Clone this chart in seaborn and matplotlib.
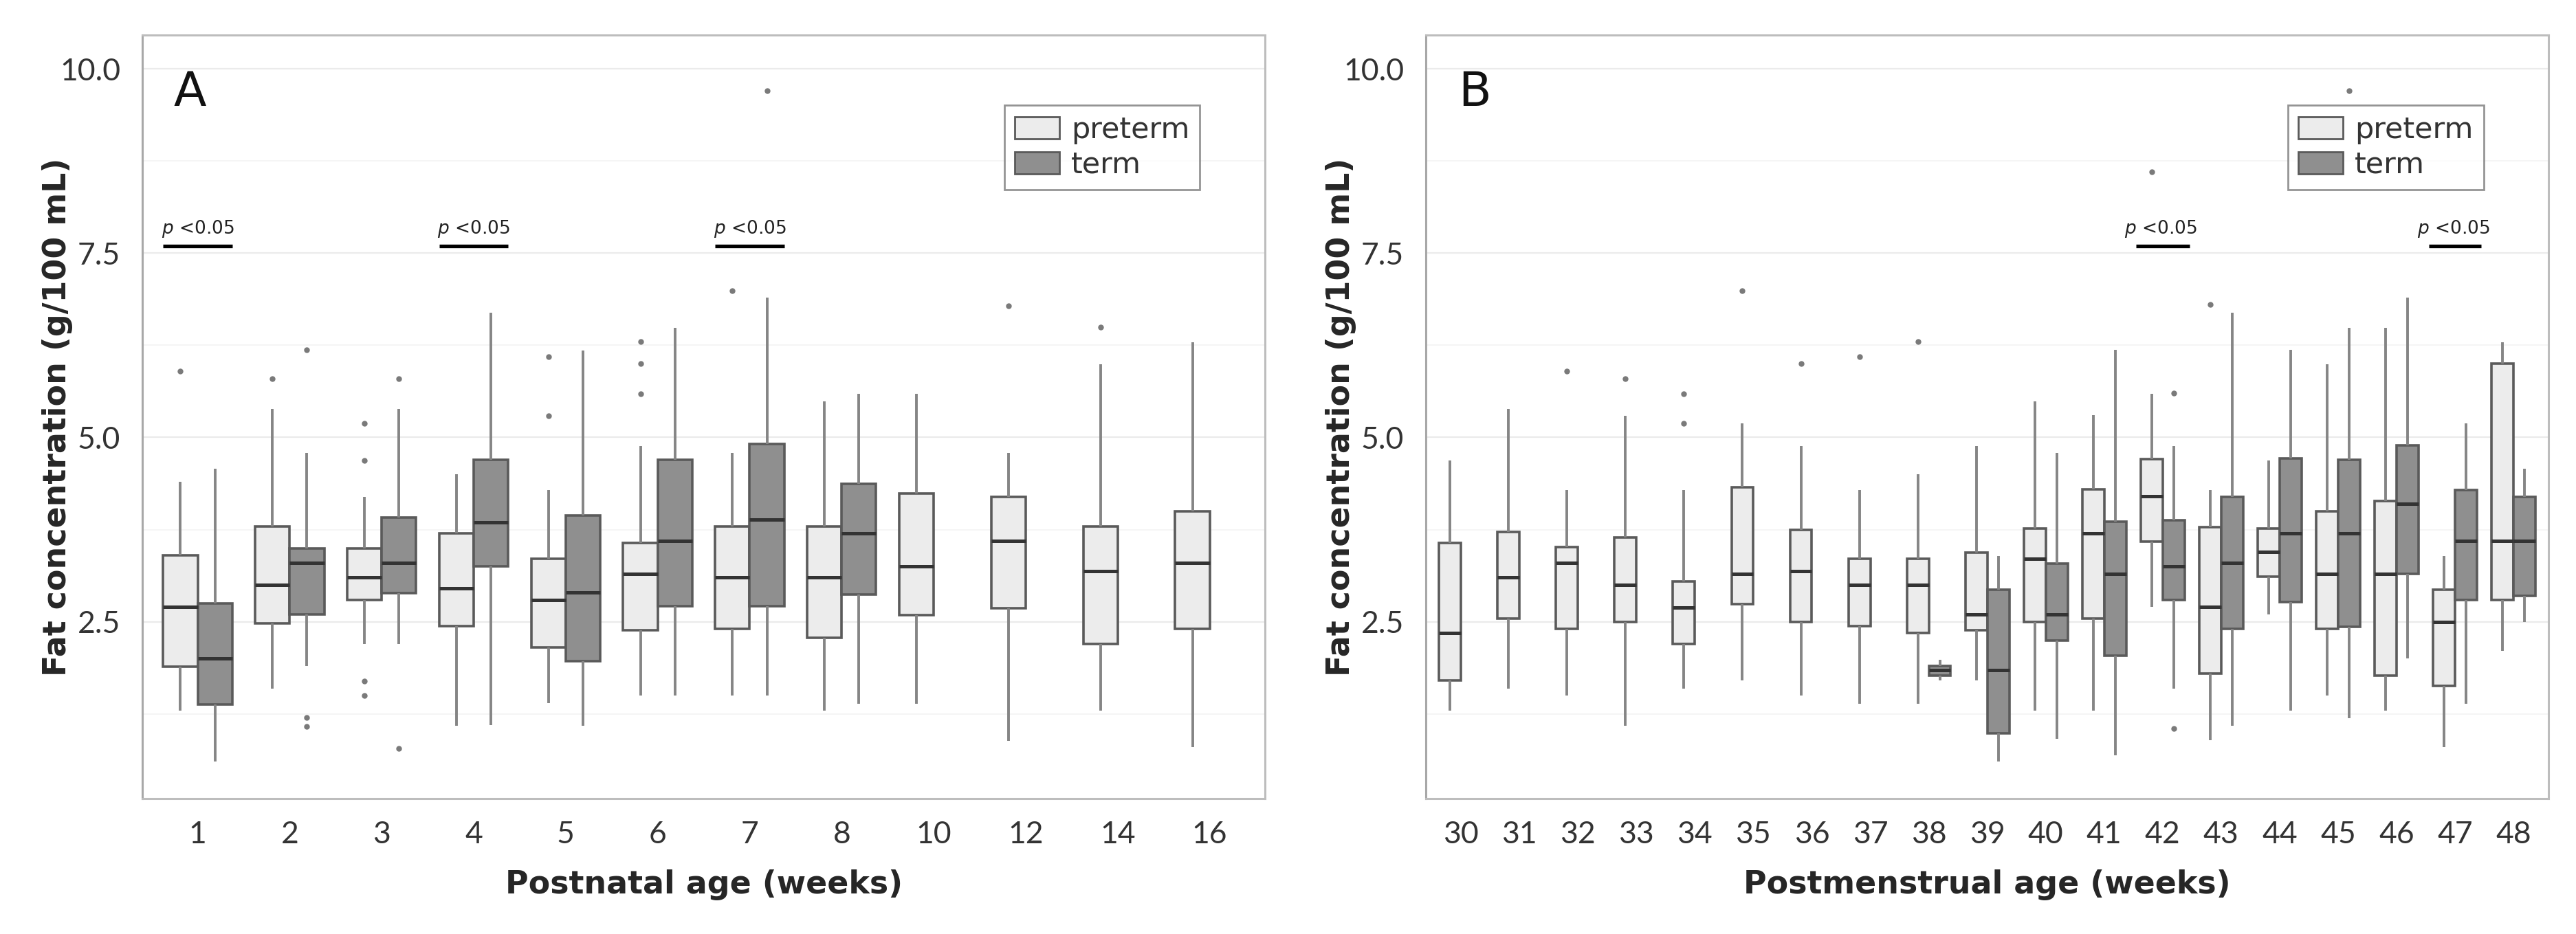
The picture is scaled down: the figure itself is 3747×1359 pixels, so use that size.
import numpy as np
import pandas as pd
import matplotlib
matplotlib.use("Agg")
import matplotlib.pyplot as plt
import seaborn as sns
from matplotlib.patches import Patch
import matplotlib.ticker as ticker

# ---- data: (whisker low, Q1, median, Q3, whisker high) ----
weeks_a = ["1", "2", "3", "4", "5", "6", "7", "8", "10", "12", "14", "16"]
preterm_a = [
    (1.29, 1.89, 2.70, 3.40, 4.40),
    (1.59, 2.48, 3.00, 3.79, 5.39),
    (2.20, 2.79, 3.10, 3.49, 4.19),
    (1.09, 2.44, 2.95, 3.70, 4.50),
    (1.40, 2.15, 2.79, 3.35, 4.29),
    (1.50, 2.38, 3.15, 3.57, 4.88),
    (1.50, 2.40, 3.10, 3.79, 4.79),
    (1.29, 2.28, 3.10, 3.79, 5.49),
    (1.39, 2.59, 3.25, 4.24, 5.59),
    (0.88, 2.68, 3.60, 4.19, 4.79),
    (1.29, 2.20, 3.19, 3.79, 5.99),
    (0.80, 2.40, 3.30, 4.00, 6.29),
]
preterm_a_out = [[5.90], [5.80], [5.19, 4.69, 1.69, 1.50], [], [6.10, 5.29],
                 [6.30, 6.00, 5.59], [6.99], [], [], [6.79], [6.50], []]
term_a = [
    (0.60, 1.38, 2.00, 2.75, 4.58),
    (1.90, 2.60, 3.30, 3.49, 4.79),
    (2.20, 2.89, 3.30, 3.91, 5.39),
    (1.10, 3.25, 3.85, 4.70, 6.69),
    (1.09, 1.96, 2.90, 3.94, 6.18),
    (1.50, 2.71, 3.60, 4.70, 6.49),
    (1.50, 2.71, 3.89, 4.91, 6.90),
    (1.39, 2.87, 3.70, 4.37, 5.59),
    None, None, None, None,
]
term_a_out = [[], [6.19, 1.20, 1.08], [5.80, 0.78], [], [], [], [9.70], [],
              [], [], [], []]

weeks_b = [str(w) for w in range(30, 49)]
preterm_b = [
    (1.29, 1.70, 2.35, 3.57, 4.69),
    (1.59, 2.54, 3.10, 3.72, 5.39),
    (1.50, 2.40, 3.30, 3.51, 4.29),
    (1.09, 2.50, 3.00, 3.64, 5.29),
    (1.59, 2.20, 2.69, 3.05, 4.29),
    (1.70, 2.74, 3.15, 4.32, 5.19),
    (1.50, 2.50, 3.19, 3.75, 4.88),
    (1.39, 2.44, 3.00, 3.35, 4.29),
    (1.39, 2.35, 3.00, 3.35, 4.50),
    (1.70, 2.38, 2.60, 3.44, 4.88),
    (1.29, 2.50, 3.35, 3.76, 5.49),
    (1.29, 2.54, 3.70, 4.30, 5.30),
    (2.70, 3.59, 4.20, 4.71, 5.59),
    (0.89, 1.80, 2.70, 3.78, 4.29),
    (2.60, 3.11, 3.45, 3.76, 4.69),
    (1.50, 2.40, 3.15, 4.00, 5.99),
    (1.29, 1.77, 3.15, 4.14, 6.49),
    (0.80, 1.63, 2.50, 2.93, 3.39),
    (2.10, 2.79, 3.60, 6.00, 6.29),
]
preterm_b_out = [[], [], [5.90], [5.80], [5.59, 5.19], [6.99], [6.00], [6.10],
                 [6.30], [], [], [], [8.60], [6.80], [], [], [], [], []]
term_b = [
    None, None, None, None, None, None, None, None,
    (1.70, 1.77, 1.84, 1.90, 1.98),
    (0.60, 0.99, 1.84, 2.93, 3.39),
    (0.91, 2.24, 2.60, 3.29, 4.79),
    (0.69, 2.04, 3.15, 3.86, 6.19),
    (1.59, 2.79, 3.25, 3.88, 4.88),
    (1.09, 2.40, 3.30, 4.19, 6.69),
    (1.29, 2.77, 3.70, 4.72, 6.19),
    (1.19, 2.43, 3.70, 4.70, 6.49),
    (2.00, 3.15, 4.10, 4.89, 6.90),
    (1.39, 2.79, 3.60, 4.29, 5.19),
    (2.50, 2.85, 3.60, 4.19, 4.58),
]
term_b_out = [[], [], [], [], [], [], [], [], [], [], [], [], [5.60, 1.05],
              [], [], [9.70], [], [], []]

# significance bars: (week, half length of bar in category units, text offset)
sig_a = [("1", 0.375, 0.0), ("4", 0.375, 0.0), ("7", 0.375, 0.0)]
sig_b = [("42", 0.46, -0.04), ("47", 0.45, -0.02)]

groups = ["preterm", "term"]
palette = {"preterm": "#ECECEC", "term": "#8F8F8F"}


def long_table(weeks, pre, pre_out, term, term_out, m=20):
    # expand each five-number summary into a sample whose box statistics match it
    rows = []
    for i, w in enumerate(weeks):
        for g, stats, outs in (("preterm", pre[i], pre_out[i]), ("term", term[i], term_out[i])):
            if stats is None:
                continue
            lo, q1, med, q3, hi = stats
            vals = [lo] + [q1] * m + [med] * m + [q3] * m + [hi] + list(outs)
            rows += [(w, g, v) for v in vals]
    return pd.DataFrame(rows, columns=["week", "group", "fat"])


df_a = long_table(weeks_a, preterm_a, preterm_a_out, term_a, term_a_out)
df_b = long_table(weeks_b, preterm_b, preterm_b_out, term_b, term_b_out)

sns.set_style("white")
plt.rcParams["font.family"] = ["DejaVu Sans"]

fig = plt.figure(figsize=(18.74, 6.795), dpi=200)
ax_a = fig.add_axes([0.0553, 0.1450, 0.4356, 0.8175])
ax_b = fig.add_axes([0.5534, 0.1450, 0.4357, 0.8175])


def draw(ax, df, weeks, xlabel, letter, sigs, letter_x):
    ax.yaxis.set_minor_locator(ticker.MultipleLocator(1.25))
    ax.grid(True, which="major", color="#EBEBEB", linewidth=0.8, zorder=0)
    ax.grid(True, which="minor", axis="y", color="#F4F4F4", linewidth=0.6, zorder=0)
    ax.set_axisbelow(True)
    sns.boxplot(
        data=df, x="week", y="fat", hue="group", order=weeks, hue_order=groups,
        palette=palette, saturation=1, width=0.75, gap=0, ax=ax, legend=False,
        linecolor="#5A5A5A", linewidth=1.3, showcaps=False, fliersize=2.0,
        whiskerprops={"color": "#858585", "linewidth": 1.4},
        medianprops={"color": "#333333", "linewidth": 1.8},
        flierprops={"marker": "o", "markerfacecolor": "#7A7A7A",
                    "markeredgecolor": "#7A7A7A", "markersize": 2.0},
    )
    ax.set_xlim(-0.6, len(weeks) - 0.4)
    ax.set_ylim(0.10, 10.46)
    ax.set_yticks([2.5, 5.0, 7.5, 10.0])
    ax.yaxis.set_major_formatter(ticker.FormatStrFormatter("%.1f"))
    ax.tick_params(axis="both", which="major", labelsize=16, colors="#BBBBBB",
                   labelcolor="#333333", length=2.5, width=0.8, pad=9)
    ax.tick_params(axis="y", which="minor", length=0)
    for lab in ax.get_xticklabels() + ax.get_yticklabels():
        lab.set_family(["Lato", "DejaVu Sans"])
    for side in ["top", "right", "bottom", "left"]:
        ax.spines[side].set_color("#BDBDBD")
        ax.spines[side].set_linewidth(1.1)
    ax.spines["left"].set_color("#A8A8A8")
    ax.set_xlabel(xlabel, fontsize=16.5, fontweight="bold", labelpad=11)
    ax.set_ylabel("Fat concentration (g/100 mL)", fontsize=16.5, fontweight="bold")
    ax.yaxis.set_label_coords(-0.062, 0.5)
    ax.text(letter_x, 9.68, letter, fontsize=25, va="center", ha="left", color="#111111")

    for week, half, off in sigs:
        xi = weeks.index(week)
        ax.plot([xi - half, xi + half], [7.60, 7.60], color="black", linewidth=1.9,
                solid_capstyle="butt")
        ax.text(xi + off, 7.69, r"$\it{p}$ <0.05", fontsize=9.5, ha="center", va="bottom",
                color="#222222")

    handles = [Patch(facecolor=palette[g], edgecolor="#5A5A5A", linewidth=1.0, label=g)
               for g in groups]
    leg = ax.legend(handles=handles, loc="upper left", bbox_to_anchor=(0.768, 0.908),
                    fontsize=15.5, frameon=True, fancybox=False, borderpad=0.35,
                    labelspacing=0.2, handlelength=1.5, handleheight=0.75,
                    handletextpad=0.4, borderaxespad=0)
    leg.get_frame().set_edgecolor("#7A7A7A")
    leg.get_frame().set_linewidth(1.0)
    for t in leg.get_texts():
        t.set_color("#333333")


draw(ax_a, df_a, weeks_a, "Postnatal age (weeks)", "A", sig_a, -0.26)
draw(ax_b, df_b, weeks_b, "Postmenstrual age (weeks)", "B", sig_b, -0.05)

fig.savefig("out.png", dpi=200, facecolor="white")
plt.close(fig)
